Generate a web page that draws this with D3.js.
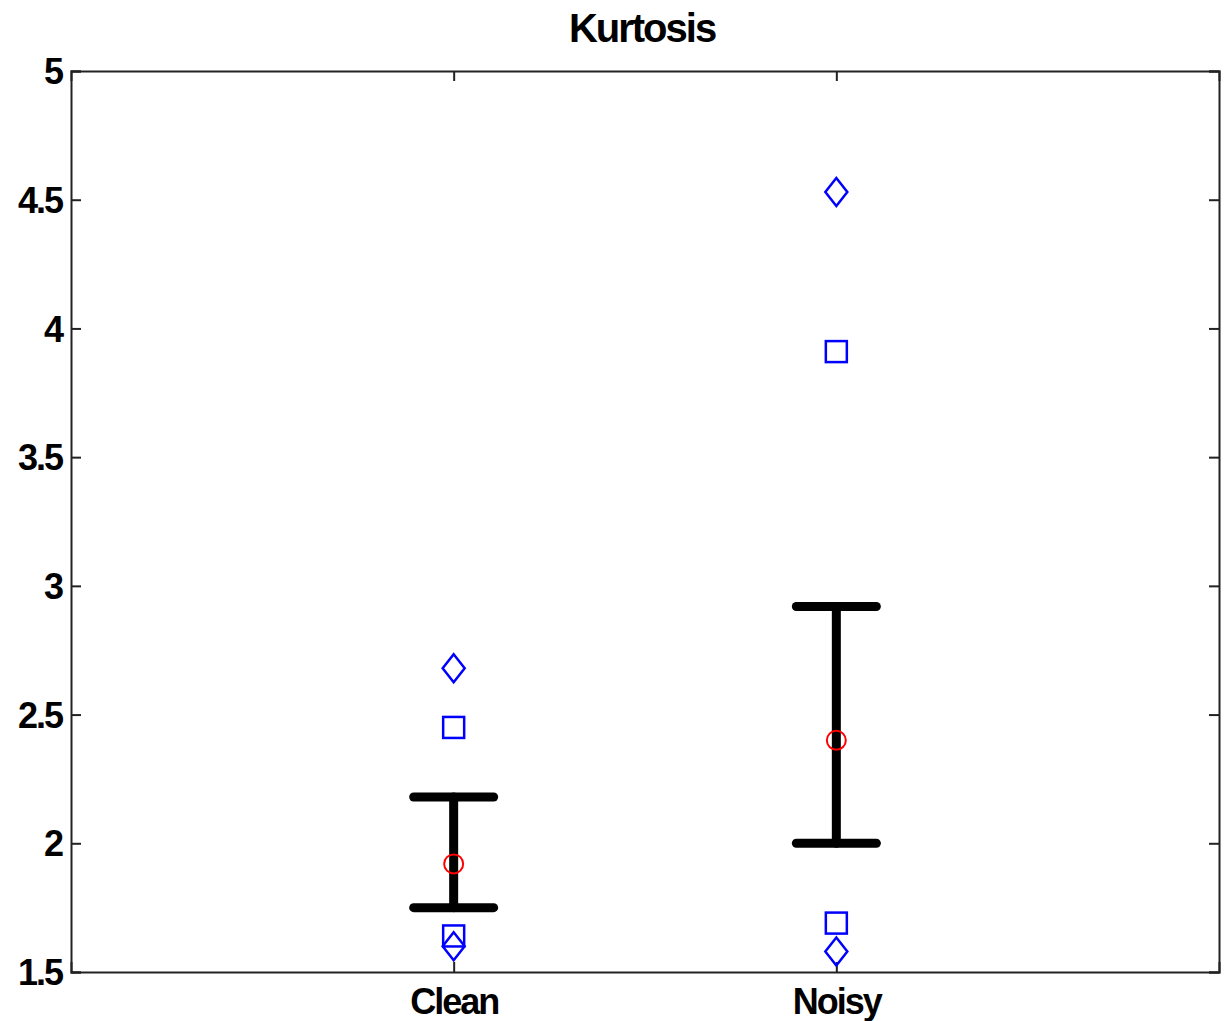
<!DOCTYPE html>
<html><head><meta charset="utf-8">
<script src="https://cdn.jsdelivr.net/npm/d3@7"></script>
<style>body{margin:0;background:#fff}</style>
</head><body>
<svg id="chart" width="1226" height="1021"></svg>
<script>
const categories = ["Clean", "Noisy"];
const meanValues = [1.92, 2.40];
const barLow = [1.75, 2.00];
const barHigh = [2.18, 2.92];
const squareHigh = [2.45, 3.91];
const squareLow = [1.64, 1.69];
const diamondHigh = [2.68, 4.53];
const diamondLow = [1.60, 1.58];
const yTicks = [1.5, 2, 2.5, 3, 3.5, 4, 4.5, 5];
const yTickLabels = ["1.5", "2", "2.5", "3", "3.5", "4", "4.5", "5"];

const svg = d3.select("#chart");
const m = {left: 71, top: 71, right: 1219, bottom: 972};
const x = d3.scaleLinear().domain([0, 3]).range([m.left, m.right]);
const y = d3.scaleLinear().domain([1.5, 5]).range([m.bottom, m.top]);
const font = "'Liberation Sans', Arial, sans-serif";

// title
svg.append("text").attr("x", 642).attr("y", 28).attr("text-anchor", "middle")
  .attr("dominant-baseline", "central").attr("font-family", font)
  .attr("font-weight", "bold").attr("font-size", 40).attr("letter-spacing", -2)
  .text("Kurtosis");

// axes
const tickLen = 10;
const yLeft = d3.axisLeft(y).tickValues(yTicks).tickSize(-tickLen).tickPadding(9)
  .tickFormat((d, i) => yTickLabels[i]);
const yRight = d3.axisRight(y).tickValues(yTicks).tickSize(-tickLen).tickFormat("");
const xBottom = d3.axisBottom(x).tickValues([1, 2]).tickSize(-tickLen).tickPadding(16)
  .tickFormat(d => categories[d - 1]);
const xTop = d3.axisTop(x).tickValues([1, 2]).tickSize(-tickLen).tickFormat("");

function style(g) {
  g.select(".domain").attr("stroke", "#222").attr("stroke-width", 2);
  g.selectAll(".tick line").attr("stroke", "#222").attr("stroke-width", 2);
  g.selectAll("text").attr("font-family", font).attr("font-weight", "bold")
    .attr("font-size", 36).attr("letter-spacing", -2).attr("fill", "#000");
}
svg.append("g").attr("transform", `translate(${m.left},0)`).call(yLeft).call(style)
  .selectAll("text").attr("dy", "0.35em");
svg.append("g").attr("transform", `translate(${m.right},0)`).call(yRight).call(style);
svg.append("g").attr("transform", `translate(0,${m.bottom})`).call(xBottom).call(style);
svg.append("g").attr("transform", `translate(0,${m.top})`).call(xTop).call(style);

const idx = categories.map((c, i) => i);
const cx = i => x(i + 1);

// error bars
const eb = svg.append("g").attr("stroke", "#000").attr("stroke-width", 9).attr("stroke-linecap", "round");
eb.selectAll(".v").data(idx).join("line")
  .attr("x1", cx).attr("x2", cx).attr("y1", i => y(barLow[i])).attr("y2", i => y(barHigh[i]));
eb.selectAll(".lo").data(idx).join("line")
  .attr("x1", i => cx(i) - 40).attr("x2", i => cx(i) + 40)
  .attr("y1", i => y(barLow[i])).attr("y2", i => y(barLow[i]));
eb.selectAll(".hi").data(idx).join("line")
  .attr("x1", i => cx(i) - 40).attr("x2", i => cx(i) + 40)
  .attr("y1", i => y(barHigh[i])).attr("y2", i => y(barHigh[i]));

// mean circles
svg.append("g").selectAll("circle").data(idx).join("circle")
  .attr("cx", cx).attr("cy", i => y(meanValues[i])).attr("r", 9.5)
  .attr("fill", "none").attr("stroke", "#f00").attr("stroke-width", 2);

// squares
const sq = 21;
const squares = [];
idx.forEach(i => { squares.push({i, v: squareHigh[i]}); squares.push({i, v: squareLow[i]}); });
svg.append("g").selectAll("rect").data(squares).join("rect")
  .attr("x", d => cx(d.i) - sq / 2).attr("y", d => y(d.v) - sq / 2)
  .attr("width", sq).attr("height", sq)
  .attr("fill", "none").attr("stroke", "#00f").attr("stroke-width", 2.5);

// diamonds
const diamonds = [];
idx.forEach(i => { diamonds.push({i, v: diamondHigh[i]}); diamonds.push({i, v: diamondLow[i]}); });
svg.append("g").selectAll("path").data(diamonds).join("path")
  .attr("d", d => {
    const px = cx(d.i), py = y(d.v), w = 11, h = 14;
    return `M${px},${py - h}L${px + w},${py}L${px},${py + h}L${px - w},${py}Z`;
  })
  .attr("fill", "none").attr("stroke", "#00f").attr("stroke-width", 2.5);
</script>
</body></html>
